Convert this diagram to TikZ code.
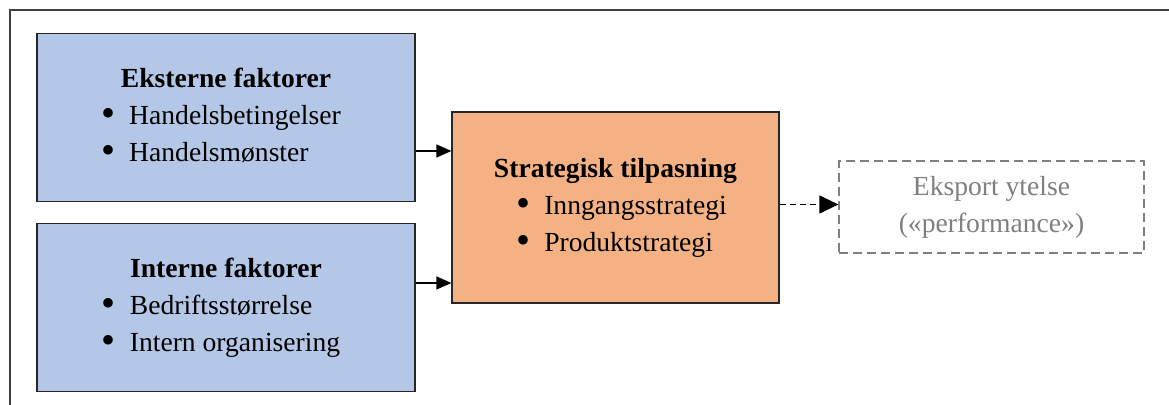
\documentclass[tikz,border=0pt]{standalone}
\usepackage{fontspec}
\setmainfont{Liberation Serif}
\usetikzlibrary{arrows.meta}
\definecolor{factorblue}{HTML}{B4C7E7}
\definecolor{stratorange}{HTML}{F4B183}
\definecolor{perfgray}{HTML}{7F7F7F}
\newcommand{\bitem}{\raisebox{-0.6pt}{\scalebox{1.45}{\textbullet}}\hspace{7pt}}
\begin{document}
\begin{tikzpicture}[x=1pt,y=1pt,
    font=\fontsize{13.8}{18.5}\selectfont,
    factorbox/.style={draw=black!85, line width=0.6pt, fill=factorblue,
      minimum width=189pt, minimum height=84pt, inner sep=0pt},
    stratbox/.style={draw=black!85, line width=0.6pt, fill=stratorange,
      minimum width=163.5pt, minimum height=95.5pt, inner sep=0pt},
    perfbox/.style={draw=perfgray, line width=0.6pt, dash pattern=on 4.5pt off 2.5pt,
      text=perfgray, minimum width=152.5pt, minimum height=46pt, inner sep=0pt, align=center},
    arr/.style={-{Triangle[length=7.5pt,width=6.5pt]}, line width=0.6pt}]
    \useasboundingbox (0,0) rectangle (584.5,202.5);
    % Frame
    \draw[line width=0.9pt, black!75] (5,0) -- (5,197.5) -- (584.5,197.5);
    % Boxes
    \node[factorbox] (ekst) at (113,143.75) {\begin{tabular}{@{}c@{}}\textbf{Eksterne faktorer}\\
      \hspace{-5pt}\begin{tabular}[t]{@{}l@{}}\bitem Handelsbetingelser\\ \bitem Handelsmønster\end{tabular}\end{tabular}};
    \node[factorbox] (intr) at (113,48.75) {\begin{tabular}{@{}c@{}}\textbf{Interne faktorer}\\
      \hspace{-5pt}\begin{tabular}[t]{@{}l@{}}\bitem Bedriftsstørrelse\\ \bitem Intern organisering\end{tabular}\end{tabular}};
    \node[stratbox] (strat) at (307.75,98.75) {\begin{tabular}{@{}c@{}}\textbf{Strategisk tilpasning}\\
      \hspace{6pt}\begin{tabular}[t]{@{}l@{}}\bitem Inngangsstrategi\\ \bitem Produktstrategi\end{tabular}\end{tabular}};
    \node[perfbox] (perf) at (495.75,99) {Eksport ytelse\\(«performance»)};
    % Arrows
    \coordinate (ekstout) at ([yshift=-16.75pt]ekst.east);
    \coordinate (introut) at ([yshift=12.25pt]intr.east);
    \draw[arr] (ekstout) -- (strat.west |- ekstout);
    \draw[arr] (introut) -- (strat.west |- introut);
    \draw[-{Triangle[length=9.5pt,width=9pt]}, line width=0.6pt, dash pattern=on 3pt off 2pt]
      ([yshift=1.5pt]strat.east) -- ([yshift=1.5pt]strat.east -| perf.west);
\end{tikzpicture}
\end{document}
